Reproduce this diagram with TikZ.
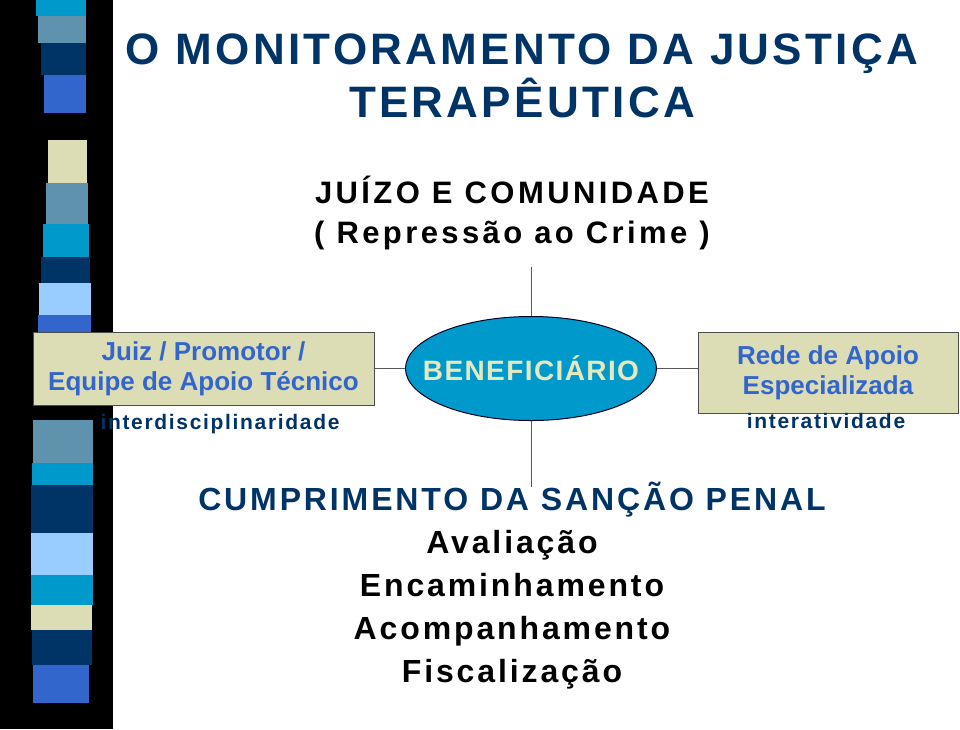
\documentclass[tikz,border=0pt]{standalone}
\usepackage{fontspec}
\setmainfont{Liberation Sans}
\usetikzlibrary{shapes.geometric}
\definecolor{SlideNavy}{HTML}{003366}
\definecolor{SlideRoyal}{HTML}{3366CC}
\definecolor{SlideCyan}{HTML}{0099CC}
\definecolor{SlideSteel}{HTML}{5F93AD}
\definecolor{SlideSky}{HTML}{99CCFF}
\definecolor{SlideBeige}{HTML}{DDDDB5}
\definecolor{SlideCream}{HTML}{E8E8BE}

\begin{document}
\begin{tikzpicture}[yscale=-1,x=1pt,y=1pt,
    spaced/.style n args={3}{font=\fontsize{#1}{#1}\selectfont\bfseries
        \addfontfeature{LetterSpace=#2},text=#3,inner sep=0pt,anchor=base},
    box/.style={draw=black!70,line width=1pt,fill=SlideBeige,
        text=SlideRoyal,align=center,inner sep=0pt,
        font=\fontsize{26}{30}\selectfont\bfseries},
    bene text/.style={text=SlideCream,inner sep=0pt,
        font=\fontsize{28}{28}\selectfont\bfseries\addfontfeature{LetterSpace=5}},
    link/.style={draw=black!65,line width=1pt}]
    \useasboundingbox[fill=white] (0,0) rectangle (960,729);
    % dark band with the coloured tiles
    \fill[black] (0,0) rectangle (113,729);
    \foreach \ya/\yb/\xa/\xb/\col in {
        0/16/36/86/SlideCyan,16/43/38/86/SlideSteel,
        43/75/41/86/SlideNavy,75/113/44/86/SlideRoyal,
        140/183/48/87/SlideBeige,183/224/46/88/SlideSteel,
        224/257/43/89/SlideCyan,257/283/41/90/SlideNavy,
        283/315/39/91/SlideSky,315/334/38/91/SlideRoyal,
        420/463/33/93/SlideSteel,463/485/32/93/SlideCyan,
        485/533/31/93/SlideNavy,533/575/31/93/SlideSky,
        575/605/31/93/SlideCyan,605/630/31/92/SlideBeige,
        630/665/32/92/SlideNavy,665/703/33/89/SlideRoyal}
       {\fill[\col] (\xa,\ya) rectangle (\xb,\yb);}
    % headings
    \node[spaced={44}{7.5}{SlideNavy}] (title1) at (522,64) {O MONITORAMENTO DA JUSTIÇA};
    \node[spaced={44}{7.5}{SlideNavy}] (title2) at (522,117) {TERAPÊUTICA};
    \node[spaced={31}{11}{black}] (juizo) at (512,203) {JUÍZO E COMUNIDADE};
    \node[spaced={31}{11}{black}] (crime) at (512,243) {( Repressão ao Crime )};
    % centre and sides
    \node[ellipse,draw=black!85!blue,line width=1pt,fill=SlideCyan,
        minimum width=251pt,minimum height=104pt,inner sep=0pt,
        label={[bene text]center:BENEFICIÁRIO}] (bene) at (531,368.5) {};
    \node[box,minimum width=341pt,minimum height=73pt] (lbox) at (203.5,368.5)
        {Juiz / Promotor /\\Equipe de Apoio Técnico};
    \node[box,minimum width=260pt,minimum height=81pt] (rbox) at (828,372.5)
        {Rede de Apoio\\Especializada};
    \node[spaced={21}{8}{SlideNavy}] (inter) at (220,429) {interdisciplinaridade};
    \node[spaced={21}{8}{SlideNavy}] (interat) at (826,428) {interatividade};
    \coordinate (top end) at (531,267);
    \coordinate (bottom end) at (531,487);
    \draw[link] (top end) -- (bene.north);
    \draw[link] (bene.south) -- (bottom end);
    \draw[link] (lbox.east) -- (bene.west);
    \draw[link] (bene.east) -- (bene.east -| rbox.west);
    % sanction and its steps
    \node[spaced={32}{9}{SlideNavy}] (sancao) at (512,510) {CUMPRIMENTO DA SANÇÃO PENAL};
    \foreach \t [count=\i] in {Avaliação,Encaminhamento,Acompanhamento,Fiscalização}
       {\node[spaced={32}{9}{black}] (step\i) at (512,{553+43.3*(\i-1)}) {\t};}
\end{tikzpicture}
\end{document}
